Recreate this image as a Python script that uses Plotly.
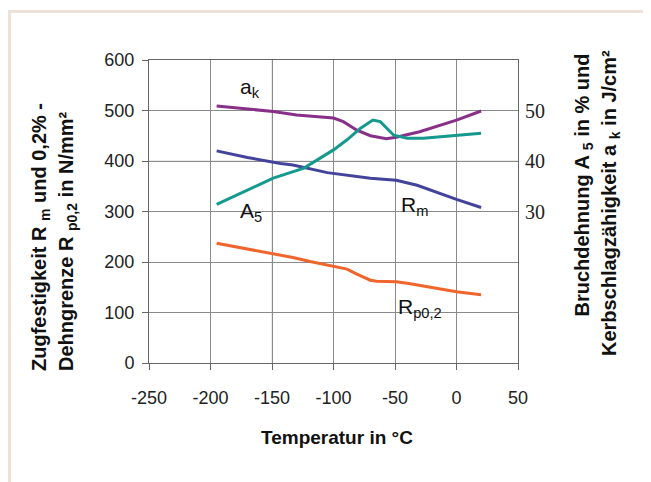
import plotly.graph_objects as go

# Temperature (°C) and values
t_ak = [-195, -149, -130, -100, -92, -81, -70, -57, -49, -30, 0, 20]
ak = [50.9, 49.8, 49.1, 48.5, 47.8, 46.1, 45.0, 44.4, 44.7, 45.8, 48.1, 49.9]

t_a5 = [-195, -176, -149, -124, -100, -89, -78, -68, -62, -51, -40, -27, 0, 20]
a5 = [31.4, 33.6, 36.6, 38.6, 42.2, 44.2, 46.5, 48.1, 47.8, 45.1, 44.5, 44.5, 45.0, 45.5]

t_rm = [-195, -170, -143, -133, -105, -89, -70, -49, -32, 0, 20]
rm = [420, 407, 395, 392, 377, 372, 366, 362, 352, 324, 308]

t_rp = [-195, -154, -133, -119, -108, -89, -81, -70, -65, -49, -40, 0, 20]
rp = [237, 219, 209, 201, 196, 186, 176, 164, 162, 161, 158, 141, 135]

x_ticks = [-250, -200, -150, -100, -50, 0, 50]
y_ticks = [0, 100, 200, 300, 400, 500, 600]
y2_ticks = [30, 40, 50]

OFF = 8  # page body margin
W, H = 651 - OFF, 482 - OFF
# plot area in page pixel coords (as seen in screenshot)
PL, PR, PT, PB = 149, 518, 60, 363
L, R, T, B = PL - OFF, PR - OFF, PT - OFF, PB - OFF

def px(xp):
    return (xp - PL) / (PR - PL)

def py(yp):
    return (PB - yp) / (PB - PT)

fig = go.Figure()
fig.add_trace(go.Scatter(x=t_rp, y=rp, mode="lines", line=dict(color="#f0652b", width=3), yaxis="y"))
fig.add_trace(go.Scatter(x=t_rm, y=rm, mode="lines", line=dict(color="#43439b", width=3), yaxis="y"))
fig.add_trace(go.Scatter(x=t_ak, y=ak, mode="lines", line=dict(color="#882f88", width=3), yaxis="y2"))
fig.add_trace(go.Scatter(x=t_a5, y=a5, mode="lines", line=dict(color="#15998f", width=3), yaxis="y2"))

grid = "#8a8a8a"
font_sans = "Liberation Sans"
font_serif = "Liberation Serif"

fig.update_layout(
    template="none",
    width=W, height=H,
    margin=dict(l=L, r=W - R, t=T, b=H - B, pad=0),
    paper_bgcolor="white", plot_bgcolor="white",
    showlegend=False,
    xaxis=dict(range=[-250, 50], tickvals=x_ticks, ticktext=[str(v) for v in x_ticks],
               showgrid=True, gridcolor=grid, gridwidth=1, zeroline=False,
               showline=True, linecolor="#666", linewidth=1, mirror=True,
               ticks="outside", ticklen=6, tickcolor="#666", ticklabelstandoff=12,
               tickfont=dict(family=font_sans, size=18, color="#222")),
    yaxis=dict(range=[0, 600], tickvals=y_ticks,
               showgrid=True, gridcolor=grid, gridwidth=1, zeroline=False,
               showline=True, linecolor="#666", linewidth=1, mirror=True,
               ticks="outside", ticklen=6, tickcolor="#666", ticklabelstandoff=4,
               tickfont=dict(family=font_sans, size=18, color="#222")),
    yaxis2=dict(range=[0, 60], tickvals=y2_ticks, overlaying="y", side="right",
                showgrid=False, zeroline=False, showline=False, ticks="",
                ticklabelstandoff=6,
                tickfont=dict(family=font_serif, size=20, color="#222")),
)

shapes = []
# lighter gridlines
shapes.append(dict(type="line", xref="x", yref="paper", x0=-150, x1=-150, y0=0, y1=1,
                   line=dict(color="#d4d4d4", width=1), layer="below"))
shapes.append(dict(type="line", xref="paper", yref="y", x0=0, x1=1, y0=400, y1=400,
                   line=dict(color="#d4d4d4", width=1), layer="below"))
# page frame
frame = "#eee1d7"
shapes.append(dict(type="line", xref="paper", yref="paper", x0=px(9.5), x1=px(9.5), y0=py(11.5), y1=py(495),
                   line=dict(color=frame, width=3)))
shapes.append(dict(type="line", xref="paper", yref="paper", x0=px(649), x1=px(649), y0=py(11.5), y1=py(495),
                   line=dict(color=frame, width=3)))
shapes.append(dict(type="line", xref="paper", yref="paper", x0=px(8), x1=px(650.5), y0=py(11.5), y1=py(11.5),
                   line=dict(color=frame, width=3)))
fig.update_layout(shapes=shapes)

ann = []
lab = dict(family=font_sans, size=21, color="#111")
ann.append(dict(x=-168, y=545, xref="x", yref="y", text="a<sub>k</sub>", showarrow=False, font=lab))
ann.append(dict(x=-167, y=300, xref="x", yref="y", text="A<sub>5</sub>", showarrow=False, font=lab))
ann.append(dict(x=-34, y=311, xref="x", yref="y", text="R<sub>m</sub>", showarrow=False, font=lab))
ann.append(dict(x=-30, y=108, xref="x", yref="y", text="R<sub>p0,2</sub>", showarrow=False, font=lab))

tfl = dict(family=font_sans, size=20, color="#111")
tfr = dict(family=font_sans, size=20, color="#111")
ann.append(dict(x=px(40), y=py(373), xref="paper", yref="paper", xanchor="center", yanchor="bottom",
                textangle=-90, showarrow=False, font=tfl,
                text="<b>Zugfestigkeit R <sub>m</sub> und 0,2% -</b>"))
ann.append(dict(x=px(67), y=py(373), xref="paper", yref="paper", xanchor="center", yanchor="bottom",
                textangle=-90, showarrow=False, font=tfl,
                text="<b>Dehngrenze R <sub>p0,2</sub> in N/mm²</b>"))
ann.append(dict(x=px(583), y=py(52), xref="paper", yref="paper", xanchor="center", yanchor="top",
                textangle=-90, showarrow=False, font=tfr,
                text="<b>Bruchdehnung A <sub>5</sub> in % und</b>"))
ann.append(dict(x=px(610), y=py(48), xref="paper", yref="paper", xanchor="center", yanchor="top",
                textangle=-90, showarrow=False, font=tfr,
                text="<b>Kerbschlagzähigkeit a <sub>k</sub> in J/cm²</b>"))
ann.append(dict(x=px(337), y=py(437), xref="paper", yref="paper", xanchor="center", yanchor="middle",
                showarrow=False, font=dict(family=font_sans, size=19, color="#111"),
                text="<b>Temperatur in °C</b>"))
fig.update_layout(annotations=ann)

fig.write_html("out.html")
